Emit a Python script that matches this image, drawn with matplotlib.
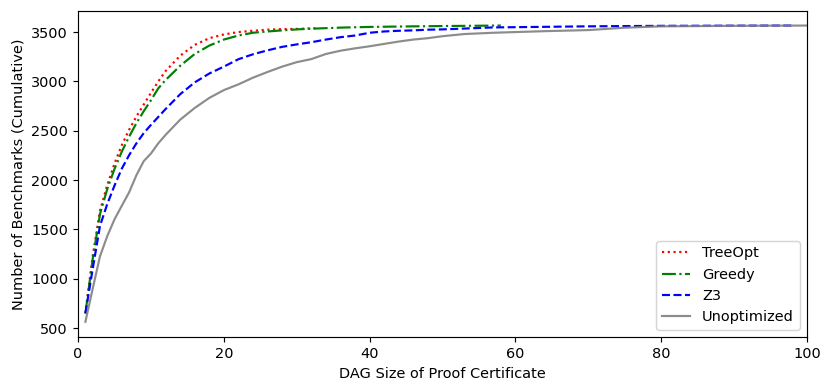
"""Cumulative benchmark counts by proof certificate DAG size."""

import matplotlib

matplotlib.use("Agg")
import matplotlib.pyplot as plt

# DAG size (x) and cumulative number of benchmarks (y) per strategy
treeopt_x = [1, 2, 3, 4, 5, 6, 7, 8, 9, 10, 11, 12, 14, 16, 18, 20, 22, 24, 26, 28, 30, 33]
treeopt_y = [650, 1230, 1690, 1950, 2170, 2355, 2510, 2645, 2765, 2885, 3000, 3105, 3260, 3370,
             3438, 3476, 3500, 3513, 3524, 3530, 3532, 3540]

greedy_x = [1, 2, 3, 4, 5, 6, 7, 8, 9, 10, 11, 12, 14, 16, 18, 20, 22, 24, 26, 28, 30, 32,
            36, 40, 45, 50, 58]
greedy_y = [650, 1200, 1655, 1910, 2115, 2290, 2440, 2578, 2698, 2810, 2930, 3014, 3158, 3278,
            3363, 3424, 3465, 3493, 3506, 3517, 3527, 3534, 3545, 3552, 3557, 3561, 3566]

z3_x = [1, 2, 3, 4, 5, 6, 7, 8, 9, 10, 11, 12, 14, 16, 18, 20, 22, 24, 26, 28, 30, 32, 34,
        36, 38, 40, 42, 44, 46, 48, 50, 57, 70, 80, 98]
z3_y = [650, 1100, 1536, 1758, 1946, 2117, 2253, 2373, 2476, 2560, 2640, 2720, 2870, 2990,
        3080, 3150, 3225, 3275, 3315, 3350, 3375, 3397, 3424, 3448, 3465, 3493, 3506, 3513,
        3517, 3524, 3527, 3547, 3558, 3563, 3566]

unopt_x = [1, 2, 3, 4, 5, 6, 7, 8, 9, 10, 11, 12, 14, 16, 18, 20, 22, 24, 26, 28, 30, 32, 34,
           36, 38, 40, 42, 44, 46, 48, 50, 53, 57, 64, 70, 75, 80, 90, 100, 110]
unopt_y = [565, 900, 1228, 1433, 1604, 1741, 1877, 2050, 2192, 2270, 2373, 2458, 2612, 2731,
           2833, 2912, 2970, 3038, 3096, 3150, 3195, 3226, 3278, 3311, 3335, 3356, 3380, 3404,
           3424, 3438, 3458, 3480, 3493, 3509, 3520, 3544, 3558, 3563, 3566, 3566]

dpi = 104
fig = plt.figure(figsize=(831 / dpi, 387 / dpi), dpi=dpi)
ax = fig.add_axes([0.094, 0.129, 0.877, 0.843])

ax.plot(treeopt_x, treeopt_y, linestyle=":", color="red", label="TreeOpt")
ax.plot(greedy_x, greedy_y, linestyle="-.", color="green", label="Greedy")
ax.plot(z3_x, z3_y, linestyle="--", color="blue", label="Z3")
ax.plot(unopt_x, unopt_y, linestyle="-", color="gray", alpha=0.9, label="Unoptimized")

ax.set_xlim(0, 100)
ax.set_ylim(410, 3715)
ax.set_xlabel("DAG Size of Proof Certificate")
ax.set_ylabel("Number of Benchmarks (Cumulative)")
ax.legend(loc="lower right")

fig.savefig("out.png", dpi=dpi)
plt.close(fig)
